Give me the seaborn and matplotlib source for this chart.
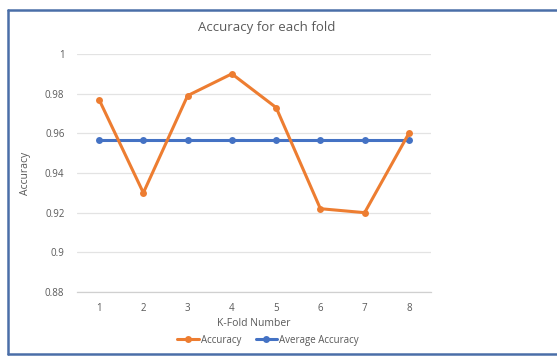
import pandas as pd
import matplotlib.pyplot as plt
from matplotlib.ticker import FixedLocator
import seaborn as sns

# Data
folds = [1, 2, 3, 4, 5, 6, 7, 8]
accuracy = [0.977, 0.930, 0.979, 0.990, 0.973, 0.922, 0.920, 0.960]
average_accuracy = [0.9565] * 8
y_ticks = [0.88, 0.9, 0.92, 0.94, 0.96, 0.98, 1]
y_tick_labels = ['0.88', '0.9', '0.92', '0.94', '0.96', '0.98', '1']

sns.set_theme(style="white")
plt.rcParams['font.family'] = ['Open Sans', 'DejaVu Sans']

text_color = '#595959'
orange = '#ED7D31'
blue = '#4472C4'

df = pd.DataFrame({
    'fold': folds * 2,
    'value': accuracy + average_accuracy,
    'series': ['Accuracy'] * 8 + ['Average Accuracy'] * 8,
})

fig = plt.figure(figsize=(5.57, 3.56), dpi=100)
fig.patch.set_facecolor('white')
ax = fig.add_axes([0.1382, 0.1798, 0.6356, 0.6685])

sns.lineplot(data=df, x='fold', y='value', hue='series',
             hue_order=['Average Accuracy', 'Accuracy'],
             palette={'Accuracy': orange, 'Average Accuracy': blue},
             marker='o', markersize=5, markeredgewidth=0, linewidth=2.2,
             legend=False, ax=ax)

ax.set_xlim(0.5, 8.5)
ax.set_ylim(0.88, 1.0)
ax.set_yticks(y_ticks)
ax.set_yticklabels(y_tick_labels)
ax.set_xticks(folds)
ax.xaxis.set_minor_locator(FixedLocator([x + 0.5 for x in range(0, 9)]))
ax.tick_params(axis='x', which='major', length=0, pad=8, labelsize=7, labelcolor=text_color)
ax.tick_params(axis='x', which='minor', length=3, width=0.8, color='#d0d0d0', direction='out')
ax.tick_params(axis='y', length=0, pad=9, labelsize=7, labelcolor=text_color)

ax.grid(axis='y', color='#e3e3e3', linewidth=0.9)
ax.set_axisbelow(True)
for side in ['left', 'right', 'top']:
    ax.spines[side].set_visible(False)
ax.spines['bottom'].set_color('#d0d0d0')
ax.spines['bottom'].set_linewidth(0.9)

ax.set_xlabel('K-Fold Number', fontsize=7.5, color=text_color, labelpad=3)
ax.set_ylabel('Accuracy', fontsize=7.5, color=text_color, labelpad=10)

fig.text(267 / 557, 1 - 28 / 356, 'Accuracy for each fold', ha='center', va='center',
         fontsize=9.5, color=text_color)

handles = [
    plt.Line2D([], [], color=orange, lw=2.2, marker='o', markersize=5, markeredgewidth=0),
    plt.Line2D([], [], color=blue, lw=2.2, marker='o', markersize=5, markeredgewidth=0),
]
fig.legend(handles, ['Accuracy', 'Average Accuracy'], loc='center',
           bbox_to_anchor=(268 / 557, 1 - 340 / 356), ncol=2, frameon=False,
           fontsize=7, labelcolor=text_color, handlelength=2.2, handletextpad=0.2,
           columnspacing=1.5)

# chart border (left, top, bottom; the right edge runs off the picture)
border = dict(color='#4a6ea8', linewidth=1.8, transform=fig.transFigure, clip_on=False)
x0, y0, y1 = 7.5 / 557, 2.5 / 356, 1 - 9.5 / 356
fig.add_artist(plt.Line2D([x0, x0], [y0, y1], **border))
fig.add_artist(plt.Line2D([x0, 1.0], [y1, y1], **border))
fig.add_artist(plt.Line2D([x0, 1.0], [y0, y0], **border))

fig.savefig('out.png', dpi=100)
